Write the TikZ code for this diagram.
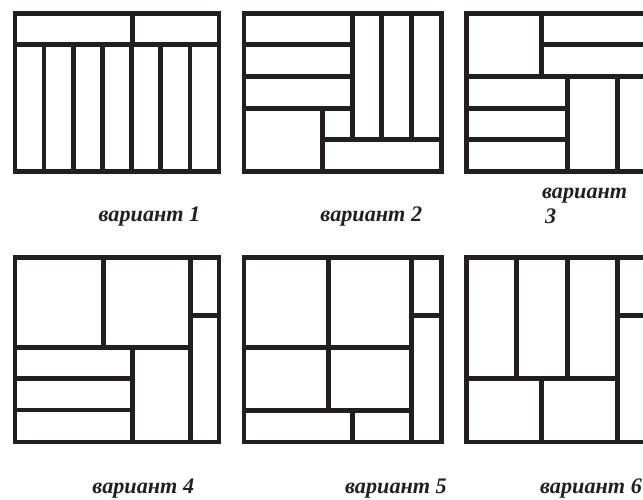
\documentclass[tikz,border=0pt]{standalone}
\usepackage{fontspec}
\setmainfont{Liberation Serif}
\usepackage{xcolor}
\definecolor{ink}{RGB}{35,31,32}

\begin{document}
\begin{tikzpicture}[x=1bp,y=-1bp,
  wall/.style={draw=ink,line width=4.6bp},
  frame/.style={wall,line join=miter},
  caption/.style={font=\bfseries\itshape\fontsize{22.2bp}{25bp}\selectfont,
    text=ink,inner sep=0pt}]
  \useasboundingbox (0,0) rectangle (643,500);
  \clip (0,0) rectangle (643,500);

  % variant 1
  \draw[frame] (15,13.3) rectangle (219,171.3);
  \draw[wall] (15,44.7) -- (219,44.7);
  \draw[wall] (132.3,13.3) -- (132.3,44.7);
  \foreach \i in {1,...,6}
    \draw[wall] ({15+\i*204/7},44.7) -- ({15+\i*204/7},171.3);

  % variant 2
  \draw[frame] (244,13.3) rectangle (441.3,171.3);
  \foreach \y in {44.7,76.3,108.3}
    \draw[wall] (244,\y) -- (352.3,\y);
  \foreach \x in {352.3,381.3,411.3}
    \draw[wall] (\x,13.3) -- (\x,139.3);
  \draw[wall] (322.7,139.3) -- (441.3,139.3);
  \draw[wall] (322.7,108.3) -- (322.7,171.3);

  % variant 3
  \draw[frame] (466.3,13.3) rectangle (670,171.3);
  \draw[wall] (466.3,76.3) -- (670,76.3);
  \draw[wall] (541.3,13.3) -- (541.3,76.3);
  \draw[wall] (541.3,44.7) -- (670,44.7);
  \foreach \x in {567.7,617.7}
    \draw[wall] (\x,76.3) -- (\x,171.3);
  \foreach \y in {108.3,139.3}
    \draw[wall] (466.3,\y) -- (567.7,\y);

  % variant 4
  \draw[frame] (15,257.3) rectangle (219,442);
  \draw[wall] (190.7,257.3) -- (190.7,442);
  \draw[wall] (190.7,315.3) -- (219,315.3);
  \draw[wall] (103.3,257.3) -- (103.3,347.3);
  \draw[wall] (15,347.3) -- (190.7,347.3);
  \draw[wall] (132.3,347.3) -- (132.3,442);
  \foreach \y in {378.3,410}
    \draw[wall] (15,\y) -- (132.3,\y);

  % variant 5
  \draw[frame] (244,257.3) rectangle (441.3,442);
  \draw[wall] (411.3,257.3) -- (411.3,442);
  \draw[wall] (411.3,315.3) -- (441.3,315.3);
  \draw[wall] (328.3,257.3) -- (328.3,410.7);
  \foreach \y in {347.3,410.7}
    \draw[wall] (244,\y) -- (411.3,\y);
  \draw[wall] (352.3,410.7) -- (352.3,442);

  % variant 6
  \draw[frame] (466.3,257.3) rectangle (670,442);
  \foreach \x in {516.7,567.7}
    \draw[wall] (\x,257.3) -- (\x,378.3);
  \draw[wall] (617.7,257.3) -- (617.7,442);
  \draw[wall] (466.3,378.3) -- (617.7,378.3);
  \draw[wall] (541.3,378.3) -- (541.3,442);
  \draw[wall] (617.7,315.3) -- (670,315.3);

  % captions
  \node[caption,anchor=base] (var1) at (149.5,221.7) {вариант 1};
  \node[caption,anchor=base] (var2) at (371.3,221.7) {вариант 2};
  \node[caption,anchor=base west,align=left] (var3) at (542,224)
    {вариант\\\hspace{3bp}3};
  \node[caption,anchor=base] (var4) at (143.3,493.3) {вариант 4};
  \node[caption,anchor=base] (var5) at (396,493.3) {вариант 5};
  \node[caption,anchor=base west] (var6) at (540,493.3) {вариант 6};
\end{tikzpicture}
\end{document}
